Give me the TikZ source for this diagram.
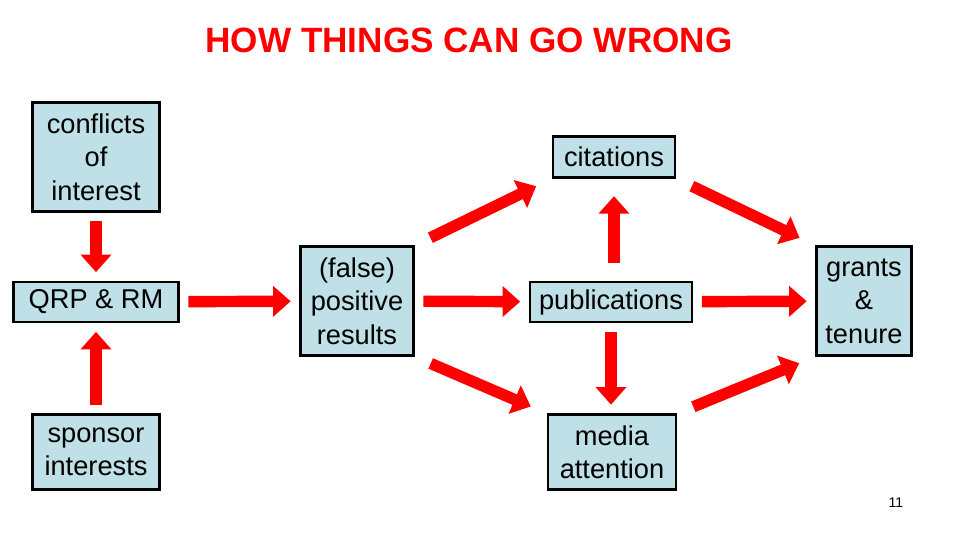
\documentclass[tikz,border=0pt]{standalone}
\usepackage{fontspec}
\setmainfont{Liberation Sans}
\usetikzlibrary{arrows.meta,positioning}
\definecolor{boxfill}{RGB}{190,224,230}
\tikzset{
  box/.style={draw=black, line width=1.2pt, fill=boxfill, align=center, font=\fontsize{15.5}{19}\selectfont, inner sep=0pt},
  flow/.style={draw=red, line width=6.5pt, -{Triangle[width=17pt,length=10pt]}, shorten <=5pt, shorten >=5pt}
}
\begin{document}
\begin{tikzpicture}[x=0.02cm, y=-0.02cm]
		\useasboundingbox (0,0) rectangle (960,540);
		\node [font=\fontsize{20}{22}\selectfont\bfseries, text=red] (title) at (469,40) {HOW THINGS CAN GO WRONG};
		\node [box, minimum width=127*0.02cm, minimum height=109*0.02cm] (coi) at (96,157) {conflicts\\of\\interest};
		\node [box, minimum width=165*0.02cm, minimum height=40*0.02cm] (qrp) at (96,302) {QRP \& RM};
		\node [box, minimum width=127*0.02cm, minimum height=75*0.02cm] (spons) at (96,452) {sponsor\\interests};
		\node [box, minimum width=113*0.02cm, minimum height=109*0.02cm] (pos) at (357,301) {(false)\\positive\\results};
		\node [box, minimum width=122*0.02cm, minimum height=41*0.02cm] (cit) at (614,157) {citations};
		\node [box, minimum width=162*0.02cm, minimum height=40*0.02cm] (pub) at (611,302) {publications};
		\node [box, minimum width=128*0.02cm, minimum height=75*0.02cm] (media) at (612,452) {media\\attention};
		\node [box, minimum width=95*0.02cm, minimum height=109*0.02cm] (grant) at (864,301) {grants\\\&\\tenure};
		\node [font=\fontsize{8}{9}\selectfont] (page) at (896,503) {11};
		% arrows
		\draw [flow] (coi) -- (qrp);
		\draw [flow] (spons) -- (qrp);
		\draw [flow] (qrp) -- (pos);
		\draw [flow] (pos) -- (pub);
		\draw [flow, shorten <=10pt, shorten >=10pt] (pos.north east) -- (cit.south west);
		\draw [flow, shorten <=10pt, shorten >=10pt] (pos.south east) -- (media.north west);
		\draw [flow, shorten <=10pt, shorten >=10pt] (pub.north -| cit) -- (cit);
		\draw [flow, shorten <=5pt, shorten >=5pt] (pub) -- (pub |- media.north);
		\draw [flow] (pub) -- (grant);
		\draw [flow, shorten <=10pt, shorten >=10pt] (cit.south east) -- (grant.north west);
		\draw [flow, shorten <=10pt, shorten >=10pt] (media.north east) -- (grant.south west);
	\end{tikzpicture}
\end{document}
